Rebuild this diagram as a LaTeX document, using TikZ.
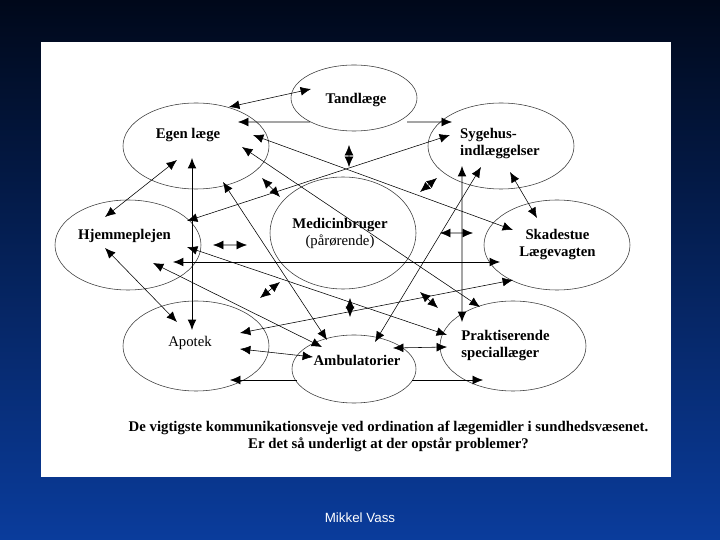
\documentclass[tikz,border=0pt]{standalone}
\usepackage{fontspec}
\setmainfont{Liberation Serif}
\newfontfamily\slidesans{Liberation Sans}
\usetikzlibrary{arrows.meta, calc, shapes.geometric}
\definecolor{SlideTop}{HTML}{00081A}
\definecolor{SlideMid}{HTML}{062A72}
\definecolor{SlideBottom}{HTML}{0A3C9C}
\definecolor{InkGray}{HTML}{3A3A3A}
\tikzset{
  station/.style={draw=InkGray, thin, ellipse, inner sep=0pt, outer sep=0pt, minimum width=3.65cm, minimum height=2.25cm},
  plabel/.style={font=\fontsize{10.5}{12.1}\selectfont\bfseries, align=center, inner sep=1pt},
  twoway/.style={{Latex[length=2.6mm,width=2.2mm]}-{Latex[length=2.6mm,width=2.2mm]}, thin, draw=black},
  oneway/.style={-{Latex[length=2.6mm,width=2.2mm]}, thin, draw=black}
}

\begin{document}
\begin{tikzpicture}
\useasboundingbox (0,0) rectangle (18,13.5);
\shade[top color=SlideTop, middle color=SlideMid, bottom color=SlideBottom] (0,0) rectangle (18,13.5);
\fill[white] (1.025,1.575) rectangle (16.775,12.45);
% the nine places
\node[station, minimum width=3.15cm, minimum height=1.65cm] (tand) at (8.85,11.05) {};
\node[station, minimum height=2.15cm] (egen) at (4.9,9.85) {};
\node[station, minimum height=2.15cm] (syge) at (12.525,9.85) {};
\node[station] (hjem) at (3.2,7.375) {};
\node[station, minimum height=2.8cm] (medic) at (8.575,7.675) {};
\node[station] (skade) at (13.925,7.375) {};
\node[station] (apotek) at (4.9,4.85) {};
\node[station, minimum width=3.1cm, minimum height=1.7cm] (ambu) at (8.85,4.275) {};
\node[station] (prakt) at (12.825,4.85) {};
\node[plabel] (tandlbl) at (8.9,11.0) {Tandlæge};
\node[plabel] (egenlbl) at (4.7,10.125) {Egen læge};
\node[plabel, align=left] (sygelbl) at (12.5,9.9125) {Sygehus-\\indlæggelser};
\node[plabel] (hjemlbl) at (3.1125,7.6) {Hjemmeplejen};
\node[plabel] (mediclbl) at (8.5,7.6625) {Medicinbruger\\\mdseries(pårørende)};
\node[plabel] (skadelbl) at (13.9375,7.3875) {Skadestue\\Lægevagten};
\node[plabel, font=\fontsize{10.5}{12.1}\selectfont] (apoteklbl) at (4.75,4.925) {Apotek};
\node[plabel] (ambulbl) at (8.925,4.5) {Ambulatorier};
\node[plabel, align=left] (praktlbl) at (12.6375,4.8625) {Praktiserende\\speciallæger};
% long connectors
\draw[twoway] ($(egen)+(0.825,0.975)$) -- ($(tand)+(-1.075,0.225)$);
\draw[oneway] ($(tand)+(-1.1,-0.6)$) -- ($(egen)+(1.05,0.6)$);
\draw[oneway] ($(tand)+(1.325,-0.6)$) -- ($(syge)+(-1.225,0.6)$);
\draw[twoway] ($(hjem)+(1.475,0.6)$) -- ($(syge)+(-1.275,0.275)$);
\draw[twoway] ($(egen)+(1.425,0.275)$) -- ($(skade)+(-1.1,0.375)$);
\draw[twoway] ($(egen)+(1.15,-0.025)$) -- ($(prakt)+(-0.825,0.975)$);
\draw[twoway] ($(egen)+(0.675,-0.9)$) -- ($(ambu)+(-0.675,0.725)$);
\draw[twoway, semithick] ($(egen)+(-0.1,-0.3)$) -- ($(apotek)+(-0.1,0.4)$);
\draw[twoway] ($(egen)+(-0.475,-0.35)$) -- ($(hjem)+(-0.575,0.7)$);
\draw[twoway] ($(hjem)+(-0.575,-0.075)$) -- ($(apotek)+(-0.475,0.6)$);
\draw[twoway] ($(hjem)+(1.475,-0.05)$) -- ($(prakt)+(-1.65,0.275)$);
\draw[twoway, semithick] ($(hjem)+(1.125,-0.425)$) -- ($(skade)+(-1.425,-0.425)$);
\draw[twoway] ($(hjem)+(0.625,-0.45)$) -- ($(ambu)+(-0.8,0.55)$);
\draw[twoway] ($(skade)+(-1.1,-0.875)$) -- ($(apotek)+(1.1,0.325)$);
\draw[twoway, semithick] ($(syge)+(-0.975,-0.5)$) -- ($(prakt)+(-1.275,0.6)$);
\draw[twoway] ($(syge)+(-0.5,-0.525)$) -- ($(ambu)+(0.525,0.675)$);
\draw[twoway] ($(syge)+(0.225,-0.65)$) -- ($(skade)+(-0.5,0.675)$);
\draw[twoway] ($(apotek)+(1.1,-0.075)$) -- ($(ambu)+(-1.025,0.3)$);
\draw[twoway] ($(ambu)+(0.975,0.525)$) -- ($(prakt)+(-1.65,-0.025)$);
\draw[oneway] ($(ambu)+(-1.425,-0.275)$) -- ($(apotek)+(0.85,-0.85)$);
\draw[oneway] ($(ambu)+(1.45,-0.275)$) -- ($(prakt)+(-0.75,-0.85)$);
% short ones round the user
\draw[twoway] ($(tand)+(-0.125,-1.175)$) -- ($(medic)+(0.15,1.65)$);
\draw[twoway] ($(egen)+(1.65,-0.8)$) -- ($(medic)+(-1.575,0.9)$);
\draw[twoway] ($(syge)+(-1.6,-0.8)$) -- ($(medic)+(1.925,1.025)$);
\draw[twoway] ($(hjem)+(2.125,0)$) -- ($(medic)+(-2.4,-0.3)$);
\draw[twoway] ($(skade)+(-2.1,0.3)$) -- ($(medic)+(2.425,0)$);
\draw[twoway] ($(apotek)+(1.6,1.2)$) -- ($(medic)+(-1.575,-1.225)$);
\draw[twoway] ($(ambu)+(-0.1,1.3)$) -- ($(medic)+(0.175,-1.625)$);
\draw[twoway] ($(prakt)+(-1.875,0.95)$) -- ($(medic)+(1.925,-1.475)$);
\node[plabel] (caption) at (9.7125,2.5875)
  {De vigtigste kommunikationsveje ved ordination af lægemidler i sundhedsvæsenet.\\Er det så underligt at der opstår problemer?};
\node[text=white, font=\slidesans\fontsize{9.5}{11}\selectfont] (author) at (9.0,0.55) {Mikkel Vass};
\end{tikzpicture}
\end{document}
